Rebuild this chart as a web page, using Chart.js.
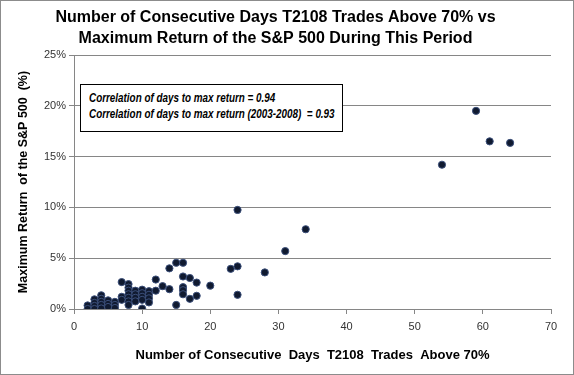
<!DOCTYPE html>
<html>
<head>
<meta charset="utf-8">
<script src="https://cdn.jsdelivr.net/npm/chart.js@4"></script>
<style>
  html, body { margin: 0; padding: 0; background: #fff; }
  #wrap { position: relative; width: 574px; height: 375px; }
  #frame { position: absolute; left: 0; top: 0; width: 574px; height: 375px; box-sizing: border-box; border: 1px solid #8c8c8c; pointer-events: none; }
  #note { position: absolute; left: 80px; top: 84px; width: 263px; height: 48px; box-sizing: border-box; border: 1px solid #000; background: #fff; padding: 5px 0 0 8px; }
  #note span { display: block; transform: scaleX(0.79); transform-origin: 0 0; white-space: pre;
          font-family: "Liberation Sans", Arial, sans-serif; font-style: italic; font-weight: bold; font-size: 12.5px; line-height: 16px; color: #000; }
</style>
</head>
<body>
<div id="wrap">
  <canvas id="c" width="574" height="375"></canvas>
  <div id="note"><span>Correlation of days to max return = 0.94</span><span>Correlation of days to max return (2003-2008)  = 0.93</span></div>
  <div id="frame"></div>
</div>
<script>
const chartTitle = ["Number of Consecutive Days T2108 Trades Above 70% vs", "Maximum Return of the S&P 500 During This Period"];
const xAxisTitle = "Number of Consecutive  Days  T2108  Trades  Above 70%";
const yAxisTitle = "Maximum Return  of the S&P 500  (%)";
const xTicks = [0, 10, 20, 30, 40, 50, 60, 70];
const yTicks = [0, 5, 10, 15, 20, 25];
const days = [2,2, 3,3,3,3, 4,4,4,4,4, 5,5,5, 6,6,6, 7,7,7, 8,8,8,8,8,8,8, 9,9,9,9, 10,10,10,10,10, 11,11,11,11, 12,12, 13, 14,14, 15,15, 16,16,16,16,16, 17,17, 18,18, 20, 23, 24,24,24, 28, 31, 34, 54, 59, 61, 64];
const maxReturn = [0.35,0.0, 0.95,0.6,0.3,0.0, 1.35,1.0,0.7,0.4,0.05, 0.85,0.5,0.2, 0.7,0.4,0.1, 2.65,1.2,0.9, 2.45,2.1,1.8,1.45,1.1,0.75,0.4, 1.8,1.45,1.1,0.75, 1.9,1.55,1.2,0.9,0.05, 1.75,1.4,1.05,0.65, 2.9,1.8, 2.25, 4.0,1.95, 4.55,0.4, 4.55,3.2,2.15,1.85,1.45, 3.05,1.0, 2.6,1.3, 2.3, 3.95, 9.75,4.2,1.4, 3.6, 5.7, 7.85, 14.2, 19.5, 16.5, 16.35];

const points = days.map((d, i) => ({ x: d, y: maxReturn[i] }));
const FONT = "'Liberation Sans', Arial, sans-serif";

new Chart(document.getElementById('c'), {
  type: 'scatter',
  data: { datasets: [{ data: points, pointRadius: 3.6, pointHoverRadius: 3.6, backgroundColor: '#101a30', borderColor: '#3b4f7a', borderWidth: 1 }] },
  options: {
    responsive: false, animation: false, devicePixelRatio: 1,
    layout: { padding: { left: 0, right: 23, top: 0, bottom: 0 } },
    plugins: {
      legend: { display: false }, tooltip: { enabled: false },
      title: { display: true, text: chartTitle, color: '#000', font: { family: FONT, size: 16, weight: 'bold', lineHeight: 1.3 }, padding: { top: 7, bottom: 6.4 } }
    },
    scales: {
      x: {
        type: 'linear', min: 0, max: 70,
        afterBuildTicks: s => { s.ticks = xTicks.map(v => ({ value: v })); },
        afterFit: s => { s.height = 66; },
        ticks: { color: '#333', font: { family: FONT, size: 11 }, padding: 6, maxRotation: 0 },
        grid: { drawOnChartArea: false, drawTicks: true, tickLength: 5, color: '#868686' },
        border: { color: '#868686' },
        title: { display: true, text: xAxisTitle, color: '#000', font: { family: FONT, size: 13, weight: 'bold' }, padding: { top: 0, bottom: 12 } }
      },
      y: {
        type: 'linear', min: 0, max: 25,
        afterBuildTicks: s => { s.ticks = yTicks.map(v => ({ value: v })); },
        afterFit: s => { s.width = 74; },
        ticks: { color: '#333', font: { family: FONT, size: 11 }, padding: 3, callback: v => v + '%' },
        grid: { color: '#868686', tickLength: 5 },
        border: { color: '#868686' },
        title: { display: true, text: yAxisTitle, color: '#000', font: { family: FONT, size: 12.5, weight: 'bold' }, padding: { top: 16, bottom: 0 } }
      }
    }
  }
});
</script>
</body>
</html>
